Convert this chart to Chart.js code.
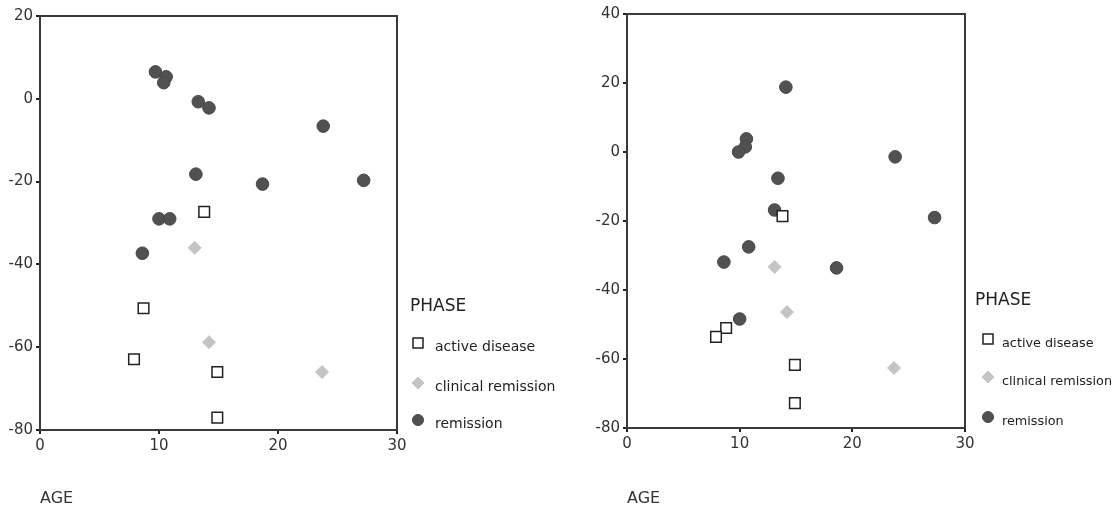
<!DOCTYPE html>
<html>
<head>
<meta charset="utf-8">
<title>PHASE by AGE</title>
<script src="https://cdn.jsdelivr.net/npm/chart.js@4.4.1/dist/chart.umd.min.js"></script>
<style>
  html, body { margin: 0; padding: 0; background: #fff; }
  #wrap { position: relative; width: 1116px; height: 508px; }
  .panel { position: absolute; top: 0; height: 508px; }
  #p1 { left: 0; width: 560px; }
  #p2 { left: 560px; width: 556px; }
</style>
</head>
<body>
<div id="wrap">
  <div class="panel" id="p1"><canvas id="c1"></canvas></div>
  <div class="panel" id="p2"><canvas id="c2"></canvas></div>
</div>
<script>
// categories / ticks
const phaseLabels = ['active disease', 'clinical remission', 'remission'];
const xTicks = [0, 10, 20, 30];
const yTicksLeft = [-80, -60, -40, -20, 0, 20];
const yTicksRight = [-80, -60, -40, -20, 0, 20, 40];

// left panel values (x = AGE)
const leftActiveAge = [13.8, 8.7, 7.9, 14.9, 14.9];
const leftActiveVal = [-27.3, -50.6, -62.9, -66, -77];
const leftClinicalAge = [13.0, 14.2, 23.7];
const leftClinicalVal = [-36, -58.8, -66];
const leftRemissionAge = [9.7, 10.6, 10.4, 13.3, 14.2, 23.8, 13.1, 18.7, 27.2, 10.0, 10.9, 8.6];
const leftRemissionVal = [6.5, 5.3, 3.9, -0.7, -2.2, -6.6, -18.2, -20.6, -19.7, -29, -29, -37.3];

// right panel values
const rightActiveAge = [13.8, 8.8, 7.9, 14.9, 14.9];
const rightActiveVal = [-18.6, -51, -53.6, -61.7, -72.8];
const rightClinicalAge = [13.1, 14.2, 23.7];
const rightClinicalVal = [-33.3, -46.4, -62.6];
const rightRemissionAge = [14.1, 10.6, 10.5, 9.9, 23.8, 13.4, 13.1, 27.3, 10.8, 8.6, 18.6, 10.0];
const rightRemissionVal = [18.8, 3.8, 1.5, 0, -1.4, -7.6, -16.8, -19, -27.5, -31.9, -33.6, -48.4];

const FONT = '"DejaVu Sans", "Noto Sans", sans-serif';

function toPoints(xs, ys) {
    return xs.map((x, i) => ({ x: x, y: ys[i] }));
}

// cadre complet autour de la zone de tracé
const frame = {
    id: 'frame',
    beforeDatasetsDraw(chart) {
        const { ctx, chartArea: a } = chart;
        ctx.save();
        ctx.strokeStyle = '#3a3a3a';
        ctx.lineWidth = 2;
        ctx.strokeRect(a.left, a.top, a.right - a.left, a.bottom - a.top);
        ctx.restore();
    }
};

function drawSymbol(ctx, ds, cx, cy) {
    ctx.save();
    ctx.fillStyle = ds.backgroundColor;
    ctx.strokeStyle = ds.borderColor;
    ctx.lineWidth = ds.borderWidth;
    ctx.beginPath();
    if (ds.pointStyle === 'rect') {
        ctx.rect(cx - 5, cy - 5, 10, 10);
    } else if (ds.pointStyle === 'rectRot') {
        ctx.moveTo(cx, cy - 6); ctx.lineTo(cx + 6, cy);
        ctx.lineTo(cx, cy + 6); ctx.lineTo(cx - 6, cy);
        ctx.closePath();
    } else {
        ctx.arc(cx, cy, 5.5, 0, Math.PI * 2);
    }
    ctx.fill();
    ctx.stroke();
    ctx.restore();
}

// légende "PHASE" dessinée à droite, en bas
const phaseLegend = {
    id: 'phaseLegend',
    afterDraw(chart, args, opts) {
        const { ctx, chartArea: a } = chart;
        ctx.save();
        ctx.textBaseline = 'middle';
        ctx.textAlign = 'left';
        ctx.fillStyle = '#222';
        ctx.font = '17px ' + FONT;
        ctx.fillText(opts.title, a.right + opts.titleDx, a.bottom + opts.titleDy);
        chart.data.datasets.forEach((ds, i) => {
            const cy = a.bottom + opts.rowDy[i];
            drawSymbol(ctx, ds, a.right + opts.symbolDx, cy);
            ctx.fillStyle = '#222';
            ctx.font = opts.labelSize + 'px ' + FONT;
            ctx.fillText(ds.label, a.right + opts.textDx, cy + opts.textShift);
        });
        ctx.restore();
    }
};

function makePanel(canvasId, p) {
    const ctx = document.getElementById(canvasId).getContext('2d');
    return new Chart(ctx, {
        type: 'scatter',
        data: {
            datasets: [{
                label: phaseLabels[0],
                data: toPoints(p.activeAge, p.activeVal),
                pointStyle: 'rect',
                pointRadius: 7.5,
                pointHoverRadius: 7.5,
                backgroundColor: '#ffffff',
                borderColor: '#222',
                borderWidth: 1.5
            }, {
                label: phaseLabels[1],
                data: toPoints(p.clinicalAge, p.clinicalVal),
                pointStyle: 'rectRot',
                pointRadius: 6.5,
                pointHoverRadius: 6.5,
                backgroundColor: '#c4c4c4',
                borderColor: '#c4c4c4',
                borderWidth: 1
            }, {
                label: phaseLabels[2],
                data: toPoints(p.remissionAge, p.remissionVal),
                pointStyle: 'circle',
                pointRadius: 6.3,
                pointHoverRadius: 6.3,
                backgroundColor: '#515151',
                borderColor: '#484848',
                borderWidth: 1
            }]
        },
        options: {
            responsive: true,
            maintainAspectRatio: false,
            animation: false,
            layout: { padding: p.padding },
            scales: {
                x: {
                    type: 'linear',
                    min: 0,
                    max: 30,
                    afterBuildTicks: s => { s.ticks = xTicks.map(v => ({ value: v })); },
                    afterFit: s => { s.height = p.xHeight; },
                    ticks: { color: '#333', font: { family: FONT, size: 15 }, padding: 3, maxRotation: 0 },
                    grid: { drawOnChartArea: false, drawTicks: true, tickLength: 4, color: '#222', lineWidth: 2 },
                    border: { color: '#3a3a3a', width: 2 },
                    title: {
                        display: true, text: 'AGE', align: 'start', color: '#333',
                        font: { family: FONT, size: 16 }, padding: { top: 0, bottom: 0 }
                    }
                },
                y: {
                    type: 'linear',
                    min: -80,
                    max: p.yMax,
                    afterBuildTicks: s => { s.ticks = p.yTicks.map(v => ({ value: v })); },
                    afterFit: s => { s.width = 40; },
                    ticks: { color: '#333', font: { family: FONT, size: 15 }, padding: 3 },
                    grid: { drawOnChartArea: false, drawTicks: true, tickLength: 4, color: '#222', lineWidth: 2 },
                    border: { color: '#3a3a3a', width: 2 }
                }
            },
            plugins: {
                legend: { display: false },
                tooltip: { enabled: false },
                phaseLegend: p.legend
            }
        },
        plugins: [frame, phaseLegend]
    });
}

makePanel('c1', {
    activeAge: leftActiveAge, activeVal: leftActiveVal,
    clinicalAge: leftClinicalAge, clinicalVal: leftClinicalVal,
    remissionAge: leftRemissionAge, remissionVal: leftRemissionVal,
    yMax: 20, yTicks: yTicksLeft,
    padding: { left: 0, top: 16, right: 163, bottom: 0 },
    xHeight: 78,
    legend: { title: 'PHASE', titleDx: 13, titleDy: -123, symbolDx: 21, textDx: 38, rowDy: [-87, -47, -10], textShift: 4, labelSize: 14 }
});

makePanel('c2', {
    activeAge: rightActiveAge, activeVal: rightActiveVal,
    clinicalAge: rightClinicalAge, clinicalVal: rightClinicalVal,
    remissionAge: rightRemissionAge, remissionVal: rightRemissionVal,
    yMax: 40, yTicks: yTicksRight,
    padding: { left: 27, top: 14, right: 151, bottom: 0 },
    xHeight: 80,
    legend: { title: 'PHASE', titleDx: 10, titleDy: -127, symbolDx: 23, textDx: 37, rowDy: [-89, -51, -11], textShift: 5, labelSize: 12.8 }
});
</script>
</body>
</html>
